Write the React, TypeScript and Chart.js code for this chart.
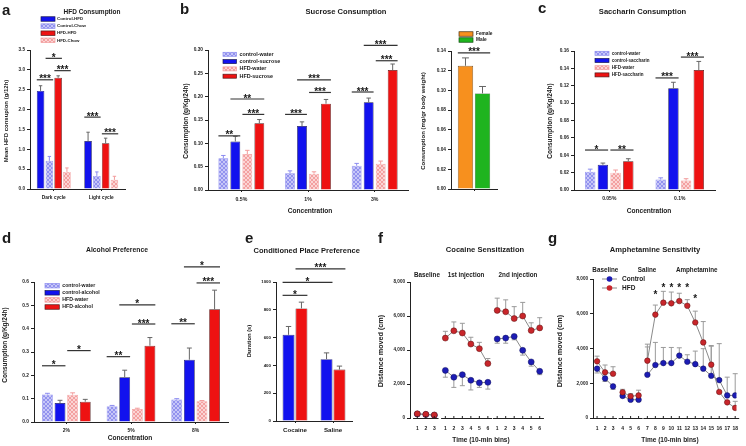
import React, { useEffect, useRef } from 'react';
import { Chart, registerables } from 'chart.js';
Chart.register(...registerables);

const FONT = "'Liberation Sans', Arial, Helvetica, sans-serif";
const W = 746;
const H = 446;

// ---------- panel a : HFD consumption ----------
const aCategories = ['Dark cycle', 'Light cycle'];
const aControlHFD = [2.47, 1.21];
const aControlHFDErr = [0.13, 0.22];
const aControlChow = [0.71, 0.33];
const aControlChowErr = [0.11, 0.1];
const aHFDHFD = [2.8, 1.15];
const aHFDHFDErr = [0.05, 0.13];
const aHFDChow = [0.43, 0.23];
const aHFDChowErr = [0.1, 0.09];
const aSig = [
  { a: [0, 0], b: [0, 1], y: 2.75, t: '***' },
  { a: [0, 1], b: [0, 2], y: 3.29, t: '*' },
  { a: [0, 2], b: [0, 3], y: 2.98, t: '***' },
  { a: [1, 0], b: [1, 1], y: 1.81, t: '***' },
  { a: [1, 2], b: [1, 3], y: 1.39, t: '***' },
];

// ---------- panel b : sucrose ----------
const bCategories = ['0.5%', '1%', '3%'];
const bControlWater = [0.068, 0.036, 0.052];
const bControlWaterErr = [0.006, 0.005, 0.005];
const bControlSucrose = [0.104, 0.137, 0.188];
const bControlSucroseErr = [0.011, 0.009, 0.009];
const bHFDWater = [0.077, 0.035, 0.056];
const bHFDWaterErr = [0.008, 0.004, 0.006];
const bHFDSucrose = [0.143, 0.185, 0.257];
const bHFDSucroseErr = [0.008, 0.009, 0.013];
const bSig = [
  { a: [0, 0], b: [0, 1], y: 0.116, t: '**' },
  { a: [0, 1], b: [0, 3], y: 0.195, t: '**' },
  { a: [0, 2], b: [0, 3], y: 0.162, t: '***' },
  { a: [1, 0], b: [1, 1], y: 0.162, t: '***' },
  { a: [1, 1], b: [1, 3], y: 0.236, t: '***' },
  { a: [1, 2], b: [1, 3], y: 0.209, t: '***' },
  { a: [2, 0], b: [2, 1], y: 0.21, t: '***' },
  { a: [2, 1], b: [2, 3], y: 0.31, t: '***' },
  { a: [2, 2], b: [2, 3], y: 0.277, t: '***' },
];
const bSexCategories = [''];
const bFemale = [0.125];
const bFemaleErr = [0.008];
const bMale = [0.097];
const bMaleErr = [0.007];
const bSexSig = [{ a: [0, 0], b: [0, 1], y: 0.138, t: '***' }];

// ---------- panel c : saccharin ----------
const cCategories = ['0.05%', '0.1%'];
const cControlWater = [0.021, 0.012];
const cControlWaterErr = [0.003, 0.002];
const cControlSaccharin = [0.029, 0.117];
const cControlSaccharinErr = [0.002, 0.007];
const cHFDWater = [0.02, 0.011];
const cHFDWaterErr = [0.003, 0.002];
const cHFDSaccharin = [0.033, 0.138];
const cHFDSaccharinErr = [0.003, 0.01];
const cSig = [
  { a: [0, 0], b: [0, 1], y: 0.046, t: '*' },
  { a: [0, 2], b: [0, 3], y: 0.046, t: '**' },
  { a: [1, 0], b: [1, 1], y: 0.129, t: '***' },
  { a: [1, 2], b: [1, 3], y: 0.153, t: '***' },
];

// ---------- panel d : alcohol ----------
const dCategories = ['2%', '5%', '8%'];
const dControlWater = [0.118, 0.068, 0.096];
const dControlWaterErr = [0.005, 0.003, 0.004];
const dControlAlcohol = [0.081, 0.192, 0.267];
const dControlAlcoholErr = [0.012, 0.03, 0.05];
const dHFDWater = [0.117, 0.056, 0.089];
const dHFDWaterErr = [0.008, 0.003, 0.003];
const dHFDAlcohol = [0.087, 0.327, 0.483];
const dHFDAlcoholErr = [0.01, 0.035, 0.082];
const dSig = [
  { a: [0, 0], b: [0, 1], y: 0.241, t: '*' },
  { a: [0, 2], b: [0, 3], y: 0.306, t: '*' },
  { a: [1, 0], b: [1, 1], y: 0.28, t: '**' },
  { a: [1, 1], b: [1, 3], y: 0.502, t: '*' },
  { a: [1, 2], b: [1, 3], y: 0.42, t: '***' },
  { a: [2, 0], b: [2, 1], y: 0.421, t: '**' },
  { a: [2, 1], b: [2, 3], y: 0.665, t: '*' },
  { a: [2, 2], b: [2, 3], y: 0.596, t: '***' },
];

// ---------- panel e : conditioned place preference ----------
const eCategories = ['Cocaine', 'Saline'];
const eControl = [620, 445];
const eControlErr = [60, 45];
const eHFD = [810, 370];
const eHFDErr = [45, 25];
const eSig = [
  { a: [0, 0], b: [0, 1], y: 904, t: '*' },
  { a: [0, 0], b: [1, 0], y: 998, t: '*' },
  { a: [0, 1], b: [1, 1], y: 1094, t: '***' },
];

// ---------- panel f : cocaine sensitization ----------
const fSegments = [3, 6, 6];
const fGaps = [1.3, 1.1];
const fTickLabels = ['1', '2', '3', '1', '2', '3', '4', '5', '6', '1', '2', '3', '4', '5', '6'];
const fControl = [230, 200, 160, 2800, 2400, 2550, 2220, 2070, 2100, 4650, 4700, 4800, 3980, 3300, 2750];
const fControlErr = [0, 0, 0, -400, -600, -650, -570, -270, -400, -250, -300, -200, -280, -250, -200];
const fHFD = [250, 220, 180, 4700, 5130, 5000, 4350, 4080, 3200, 6330, 6250, 5850, 6000, 5150, 5300];
const fHFDErr = [0, 0, 0, 400, 520, 570, 400, 370, 300, 720, 700, 700, 800, 450, 600];
const fHeaders = ['Baseline', '1st injection', '2nd injection'];

// ---------- panel g : amphetamine sensitivity ----------
const gSegments = [3, 3, 12];
const gGaps = [1.2, 1.1];
const gTickLabels = ['1', '2', '3', '4', '5', '6', '7', '8', '9', '10', '11', '12', '13', '14', '15', '16', '17', '18'];
const gControl = [2840, 2280, 1820, 1270, 1050, 1050, 2490, 3050, 3160, 3160, 3590, 3240, 3100, 2840, 2430, 2180, 1300, 1300];
const gControlErr = [-250, -180, -170, -100, -100, -100, 1600, 1300, 900, 900, 450, 400, 750, 1150, 1700, 2100, 1050, 1250];
const gHFD = [3260, 2630, 2550, 1480, 1250, 1300, 3300, 5950, 6640, 6600, 6730, 6460, 5500, 4350, 3070, 1500, 900, 580];
const gHFDErr = [300, 420, 400, 170, 150, 300, 950, 550, 650, 650, 450, 350, 650, 1200, 1100, 0, 0, 380];
const gHeaders = ['Baseline', 'Saline', 'Amphetamine'];
const gStarIndex = [7, 8, 9, 10, 11, 12];
const gStarLevel = [7190, 7610, 7610, 7610, 7610, 6940];

// ---------------------------------------------------------------
type Txt = { s: string; x: number; y: number; size: number; rot?: boolean; align?: CanvasTextAlign; base?: CanvasTextBaseline };

function drawText(ctx: CanvasRenderingContext2D, t: Txt) {
  ctx.save();
  ctx.font = `bold ${t.size}px ${FONT}`;
  ctx.fillStyle = '#1a1a1a';
  ctx.textAlign = t.align ?? 'center';
  ctx.textBaseline = t.base ?? 'middle';
  if (t.rot) {
    ctx.translate(t.x, t.y);
    ctx.rotate(-Math.PI / 2);
    ctx.fillText(t.s, 0, 0);
  } else ctx.fillText(t.s, t.x, t.y);
  ctx.restore();
}

function makePattern(base: string, ink: string): any {
  const c = document.createElement('canvas');
  c.width = 4;
  c.height = 4;
  const g = c.getContext('2d');
  if (!g) return base;
  g.fillStyle = base;
  g.fillRect(0, 0, 4, 4);
  g.fillStyle = ink;
  const px = [[0, 0], [1, 1], [2, 2], [3, 3], [3, 0], [2, 1], [1, 2], [0, 3]];
  px.forEach(([x, y]) => g.fillRect(x, y, 1, 1));
  const p = g.createPattern(c, 'repeat');
  return p ?? base;
}

function styleOf(style: string, pats: any) {
  switch (style) {
    case 'blue': return { bg: '#1212ee', border: '#1a1a50', err: '#666' };
    case 'red': return { bg: '#ee1212', border: '#501a1a', err: '#666' };
    case 'blueHatch': return { bg: pats.blue, border: '#8c8cf0', err: '#8c8cf0' };
    case 'pinkHatch': return { bg: pats.pink, border: '#f29c9c', err: '#f29c9c' };
    case 'orange': return { bg: '#f7901e', border: '#4a3010', err: '#666' };
    default: return { bg: '#1fb41f', border: '#104a10', err: '#666' };
  }
}

type BarDS = { label: string; data: number[]; err: number[]; style: string };
type LegendSpec = { x: number; y: number; dy: number; size: number; boxW: number; boxH: number; gap: number };
type BarSpec = {
  area: number[];
  categories: string[];
  datasets: BarDS[];
  yMax: number; yStep: number; dec: number;
  catPct: number; barPct: number;
  sigs: any[];
  texts: Txt[];
  legend?: LegendSpec;
  tickSize: number; catSize: number;
};

function buildBar(canvas: HTMLCanvasElement, spec: BarSpec) {
  const pats = { blue: makePattern('#c6c6f8', '#9292ee'), pink: makePattern('#fbd4d4', '#f3a0a0') };
  const [L, R, T, B] = spec.area;
  const yW = 30;
  const xH = 20;
  const styles = spec.datasets.map((d) => styleOf(d.style, pats));
  const datasets = spec.datasets.map((d, i) => ({
    label: d.label,
    data: d.data,
    backgroundColor: styles[i].bg,
    borderColor: styles[i].border,
    borderWidth: 0.7,
    categoryPercentage: spec.catPct,
    barPercentage: spec.barPct,
  }));
  const decor = {
    id: 'decor',
    afterDatasetsDraw(chart: any) {
      const ctx = chart.ctx;
      const ys = chart.scales.y;
      spec.datasets.forEach((d, i) => {
        const meta = chart.getDatasetMeta(i);
        meta.data.forEach((el: any, j: number) => {
          const v = d.data[j];
          const top = ys.getPixelForValue(v + d.err[j]);
          const y0 = ys.getPixelForValue(v);
          const cw = el.width * 0.45;
          ctx.save();
          ctx.strokeStyle = styles[i].err;
          ctx.lineWidth = 1;
          ctx.beginPath();
          ctx.moveTo(el.x, y0);
          ctx.lineTo(el.x, top);
          ctx.moveTo(el.x - cw / 2, top);
          ctx.lineTo(el.x + cw / 2, top);
          ctx.stroke();
          ctx.restore();
        });
      });
    },
    afterDraw(chart: any) {
      const ctx = chart.ctx;
      const ys = chart.scales.y;
      spec.sigs.forEach((s) => {
        const ea = chart.getDatasetMeta(s.a[1]).data[s.a[0]];
        const eb = chart.getDatasetMeta(s.b[1]).data[s.b[0]];
        const x1 = ea.x - ea.width / 2;
        const x2 = eb.x + eb.width / 2;
        const y = ys.getPixelForValue(s.y);
        ctx.save();
        ctx.strokeStyle = '#333';
        ctx.lineWidth = 1.2;
        ctx.beginPath();
        ctx.moveTo(x1, y);
        ctx.lineTo(x2, y);
        ctx.stroke();
        ctx.restore();
        drawText(ctx, { s: s.t, x: (x1 + x2) / 2, y: y + 2.5, size: 10, base: 'alphabetic' });
      });
      spec.texts.forEach((t) => drawText(ctx, t));
      if (spec.legend) {
        const lg = spec.legend;
        spec.datasets.forEach((d, i) => {
          const cy = lg.y + i * lg.dy;
          ctx.save();
          ctx.fillStyle = styles[i].bg;
          ctx.fillRect(lg.x, cy - lg.boxH / 2, lg.boxW, lg.boxH);
          ctx.strokeStyle = styles[i].border;
          ctx.lineWidth = 0.7;
          ctx.strokeRect(lg.x, cy - lg.boxH / 2, lg.boxW, lg.boxH);
          ctx.restore();
          drawText(ctx, { s: d.label, x: lg.x + lg.boxW + lg.gap, y: cy, size: lg.size, align: 'left' });
        });
      }
    },
  };
  return new Chart(canvas, {
    type: 'bar',
    data: { labels: spec.categories, datasets },
    options: {
      responsive: false,
      animation: false,
      devicePixelRatio: 1,
      layout: { autoPadding: false, padding: { left: L - yW, right: W - R, top: T, bottom: H - B - xH } },
      scales: {
        x: {
          afterFit: (s: any) => { s.height = xH; },
          grid: { display: true, offset: false, drawOnChartArea: false, drawTicks: true, tickLength: 2, color: '#222' },
          border: { display: true, color: '#222', width: 1 },
          ticks: { font: { family: FONT, size: spec.catSize, weight: 'bold' }, color: '#1a1a1a', padding: 4, maxRotation: 0, autoSkip: false },
        },
        y: {
          min: 0,
          max: spec.yMax,
          afterFit: (s: any) => { s.width = yW; },
          grid: { drawOnChartArea: false, drawTicks: true, tickLength: 3, color: '#222' },
          border: { display: true, color: '#222', width: 1 },
          ticks: {
            stepSize: spec.yStep,
            callback: (v: any) => Number(v).toFixed(spec.dec),
            font: { family: FONT, size: spec.tickSize, weight: 'bold' },
            color: '#1a1a1a',
            padding: 2,
          },
        },
      },
      plugins: { legend: { display: false }, tooltip: { enabled: false }, title: { display: false } },
    } as any,
    plugins: [decor],
  });
}

type LineSpec = {
  area: number[];
  xMin: number; xMax: number;
  segments: number[]; gaps: number[];
  tickLabels: string[];
  control: number[]; controlErr: number[];
  hfd: number[]; hfdErr: number[];
  texts: Txt[];
  headers: string[]; headerX: number[]; headerY: number;
  stars?: { idx: number[]; lvl: number[] };
  legend?: { x1: number; x2: number; y: number; dy: number; size: number };
  radius: number;
};

function positionsOf(segments: number[], gaps: number[]) {
  const out: number[] = [];
  let x = 1;
  segments.forEach((n, si) => {
    for (let k = 0; k < n; k++) {
      out.push(x);
      if (k < n - 1) x += 1;
    }
    if (si < segments.length - 1) x += gaps[si];
  });
  return out;
}

function buildLine(canvas: HTMLCanvasElement, spec: LineSpec) {
  const [L, R, T, B] = spec.area;
  const yW = 30;
  const xH = 20;
  const pos = positionsOf(spec.segments, spec.gaps);
  const withBreaks = (vals: number[], errs: number[]) => {
    const pts: any[] = [];
    const es: (number | null)[] = [];
    let idx = 0;
    spec.segments.forEach((n, si) => {
      for (let k = 0; k < n; k++) {
        pts.push({ x: pos[idx], y: vals[idx] });
        es.push(errs[idx]);
        idx++;
      }
      if (si < spec.segments.length - 1) {
        pts.push({ x: pos[idx - 1] + 0.5, y: null });
        es.push(null);
      }
    });
    return { pts, es };
  };
  const c = withBreaks(spec.control, spec.controlErr);
  const h = withBreaks(spec.hfd, spec.hfdErr);
  const RED = '#c8262b';
  const BLUE = '#1c1cb4';
  const decor = {
    id: 'decor',
    beforeDatasetsDraw(chart: any) {
      const ctx = chart.ctx;
      const xs = chart.scales.x;
      const ys = chart.scales.y;
      [h, c].forEach((ser) => {
        ser.pts.forEach((p: any, i: number) => {
          const e = ser.es[i];
          if (p.y == null || !e) return;
          const x = xs.getPixelForValue(p.x);
          const y0 = ys.getPixelForValue(p.y);
          const y1 = ys.getPixelForValue(p.y + e);
          ctx.save();
          ctx.strokeStyle = '#9a9a9a';
          ctx.lineWidth = 1;
          ctx.beginPath();
          ctx.moveTo(x, y0);
          ctx.lineTo(x, y1);
          ctx.moveTo(x - 2.5, y1);
          ctx.lineTo(x + 2.5, y1);
          ctx.stroke();
          ctx.restore();
        });
      });
    },
    afterDraw(chart: any) {
      const ctx = chart.ctx;
      const xs = chart.scales.x;
      const ys = chart.scales.y;
      let idx = 0;
      ctx.save();
      ctx.strokeStyle = '#222';
      ctx.lineWidth = 1;
      spec.segments.forEach((n) => {
        const a = xs.getPixelForValue(pos[idx] - 0.5);
        const b = xs.getPixelForValue(pos[idx + n - 1] + 0.5);
        ctx.beginPath();
        ctx.moveTo(a, B + 0.5);
        ctx.lineTo(b, B + 0.5);
        for (let k = 0; k < n; k++) {
          const px = xs.getPixelForValue(pos[idx + k]);
          ctx.moveTo(px, B + 0.5);
          ctx.lineTo(px, B - 2);
        }
        ctx.stroke();
        idx += n;
      });
      ctx.restore();
      spec.headers.forEach((s, i) => drawText(ctx, { s, x: spec.headerX[i], y: spec.headerY, size: 6.3 }));
      if (spec.stars) {
        spec.stars.idx.forEach((k, i) => {
          drawText(ctx, { s: '*', x: xs.getPixelForValue(pos[k]), y: ys.getPixelForValue(spec.stars!.lvl[i]) + 5, size: 10, base: 'alphabetic' });
        });
      }
      if (spec.legend) {
        const lg = spec.legend;
        [['Control', BLUE], ['HFD', RED]].forEach(([s, col], i) => {
          const y = lg.y + i * lg.dy;
          ctx.save();
          ctx.strokeStyle = '#8a8a8a';
          ctx.lineWidth = 1;
          ctx.beginPath();
          ctx.moveTo(lg.x1, y);
          ctx.lineTo(lg.x2, y);
          ctx.stroke();
          ctx.fillStyle = col;
          ctx.beginPath();
          ctx.arc((lg.x1 + lg.x2) / 2, y, spec.radius, 0, Math.PI * 2);
          ctx.fill();
          ctx.restore();
          drawText(ctx, { s, x: lg.x2 + 5, y, size: lg.size, align: 'left' });
        });
      }
      spec.texts.forEach((t) => drawText(ctx, t));
    },
  };
  return new Chart(canvas, {
    type: 'line',
    data: {
      datasets: [
        { label: 'HFD', data: h.pts, borderColor: '#8a8a8a', borderWidth: 1, pointBackgroundColor: RED, pointBorderColor: '#5a1010', pointBorderWidth: 0.5, pointRadius: spec.radius, spanGaps: false },
        { label: 'Control', data: c.pts, borderColor: '#8a8a8a', borderWidth: 1, pointBackgroundColor: BLUE, pointBorderColor: '#10105a', pointBorderWidth: 0.5, pointRadius: spec.radius, spanGaps: false },
      ],
    },
    options: {
      responsive: false,
      animation: false,
      devicePixelRatio: 1,
      layout: { autoPadding: false, padding: { left: L - yW, right: W - R, top: T, bottom: H - B - xH } },
      scales: {
        x: {
          type: 'linear',
          min: spec.xMin,
          max: spec.xMax,
          afterFit: (s: any) => { s.height = xH; },
          afterBuildTicks: (s: any) => { s.ticks = pos.map((v) => ({ value: v })); },
          grid: { display: false, drawTicks: false },
          border: { display: false },
          ticks: {
            autoSkip: false,
            maxRotation: 0,
            padding: 8,
            callback: (_v: any, i: number) => spec.tickLabels[i],
            font: { family: FONT, size: 5, weight: 'bold' },
            color: '#1a1a1a',
          },
        },
        y: {
          min: 0,
          max: 8000,
          afterFit: (s: any) => { s.width = yW; },
          grid: { drawOnChartArea: false, drawTicks: true, tickLength: 3, color: '#222' },
          border: { display: true, color: '#222', width: 1 },
          ticks: { stepSize: 2000, font: { family: FONT, size: 4.6, weight: 'bold' }, color: '#1a1a1a', padding: 2 },
        },
      },
      plugins: { legend: { display: false }, tooltip: { enabled: false }, title: { display: false } },
    } as any,
    plugins: [decor],
  });
}

// ---------------------------------------------------------------
const barSpecs: BarSpec[] = [
  {
    area: [30, 125, 50, 189],
    categories: aCategories,
    datasets: [
      { label: 'Control-HFD', data: aControlHFD, err: aControlHFDErr, style: 'blue' },
      { label: 'Control-Chow', data: aControlChow, err: aControlChowErr, style: 'blueHatch' },
      { label: 'HFD-HFD', data: aHFDHFD, err: aHFDHFDErr, style: 'red' },
      { label: 'HFD-Chow', data: aHFDChow, err: aHFDChowErr, style: 'pinkHatch' },
    ],
    yMax: 3.5, yStep: 0.5, dec: 1, catPct: 0.74, barPct: 0.86,
    sigs: aSig,
    texts: [
      { s: 'a', x: 2, y: 15, size: 15, align: 'left', base: 'alphabetic' },
      { s: 'HFD Consumption', x: 92, y: 12, size: 6.5 },
      { s: 'Mean HFD consupion (g/12h)', x: 6, y: 121, size: 6, rot: true },
    ],
    legend: { x: 41, y: 19, dy: 7.1, size: 4.4, boxW: 14, boxH: 4.5, gap: 2 },
    tickSize: 4.6, catSize: 4.8,
  },
  {
    area: [208, 408, 50, 190],
    categories: bCategories,
    datasets: [
      { label: 'control-water', data: bControlWater, err: bControlWaterErr, style: 'blueHatch' },
      { label: 'control-sucrose', data: bControlSucrose, err: bControlSucroseErr, style: 'blue' },
      { label: 'HFD-water', data: bHFDWater, err: bHFDWaterErr, style: 'pinkHatch' },
      { label: 'HFD-sucrose', data: bHFDSucrose, err: bHFDSucroseErr, style: 'red' },
    ],
    yMax: 0.3, yStep: 0.05, dec: 2, catPct: 0.72, barPct: 0.82,
    sigs: bSig,
    texts: [
      { s: 'b', x: 180, y: 14, size: 15, align: 'left', base: 'alphabetic' },
      { s: 'Sucrose Consumption', x: 346, y: 12, size: 7.6 },
      { s: 'Consumption (g/Kg/24h)', x: 186, y: 121, size: 6.5, rot: true },
      { s: 'Concentration', x: 310, y: 211, size: 6.6 },
    ],
    legend: { x: 223, y: 54.3, dy: 7.3, size: 5.4, boxW: 13.5, boxH: 4, gap: 3 },
    tickSize: 4.8, catSize: 5.2,
  },
  {
    area: [451, 497, 51, 189],
    categories: bSexCategories,
    datasets: [
      { label: 'Female', data: bFemale, err: bFemaleErr, style: 'orange' },
      { label: 'Male', data: bMale, err: bMaleErr, style: 'green' },
    ],
    yMax: 0.14, yStep: 0.02, dec: 2, catPct: 0.74, barPct: 0.9,
    sigs: bSexSig,
    texts: [
      { s: 'Consumption (mg/gr body weight)', x: 423.5, y: 121, size: 6, rot: true },
    ],
    legend: { x: 459, y: 34, dy: 6, size: 4.8, boxW: 14, boxH: 4.5, gap: 3 },
    tickSize: 4.8, catSize: 5,
  },
  {
    area: [574, 715, 51, 190],
    categories: cCategories,
    datasets: [
      { label: 'control-water', data: cControlWater, err: cControlWaterErr, style: 'blueHatch' },
      { label: 'control-saccharin', data: cControlSaccharin, err: cControlSaccharinErr, style: 'blue' },
      { label: 'HFD-water', data: cHFDWater, err: cHFDWaterErr, style: 'pinkHatch' },
      { label: 'HFD-saccharin', data: cHFDSaccharin, err: cHFDSaccharinErr, style: 'red' },
    ],
    yMax: 0.16, yStep: 0.02, dec: 2, catPct: 0.72, barPct: 0.82,
    sigs: cSig,
    texts: [
      { s: 'c', x: 538, y: 13, size: 15, align: 'left', base: 'alphabetic' },
      { s: 'Saccharin Consumption', x: 642.5, y: 12, size: 7.6 },
      { s: 'Consumption (g/Kg/24h)', x: 550, y: 121, size: 6.5, rot: true },
      { s: 'Concentration', x: 649, y: 211, size: 6.6 },
    ],
    legend: { x: 595, y: 53.3, dy: 7.2, size: 4.5, boxW: 14, boxH: 4, gap: 2.7 },
    tickSize: 4.8, catSize: 5,
  },
  {
    area: [34, 228, 282, 422],
    categories: dCategories,
    datasets: [
      { label: 'control-water', data: dControlWater, err: dControlWaterErr, style: 'blueHatch' },
      { label: 'control-alcohol', data: dControlAlcohol, err: dControlAlcoholErr, style: 'blue' },
      { label: 'HFD-water', data: dHFDWater, err: dHFDWaterErr, style: 'pinkHatch' },
      { label: 'HFD-alcohol', data: dHFDAlcohol, err: dHFDAlcoholErr, style: 'red' },
    ],
    yMax: 0.6, yStep: 0.1, dec: 1, catPct: 0.78, barPct: 0.86,
    sigs: dSig,
    texts: [
      { s: 'd', x: 2, y: 243, size: 15, align: 'left', base: 'alphabetic' },
      { s: 'Alcohol Preference', x: 117, y: 250, size: 6.8 },
      { s: 'Consumption (g/Kg/24h)', x: 5, y: 345, size: 6.5, rot: true },
      { s: 'Concentration', x: 130, y: 438, size: 6.6 },
    ],
    legend: { x: 45, y: 285.7, dy: 7.1, size: 5.2, boxW: 14.3, boxH: 4.5, gap: 3 },
    tickSize: 4.8, catSize: 5,
  },
  {
    area: [276, 352, 282, 421],
    categories: eCategories,
    datasets: [
      { label: 'Control', data: eControl, err: eControlErr, style: 'blue' },
      { label: 'HFD', data: eHFD, err: eHFDErr, style: 'red' },
    ],
    yMax: 1000, yStep: 200, dec: 0, catPct: 0.68, barPct: 0.92,
    sigs: eSig,
    texts: [
      { s: 'e', x: 245, y: 243, size: 15, align: 'left', base: 'alphabetic' },
      { s: 'Conditioned Place Preference', x: 306.7, y: 250.5, size: 7.5 },
      { s: 'Duration (s)', x: 249.7, y: 341, size: 5.8, rot: true },
    ],
    tickSize: 4.4, catSize: 6.2,
  },
];

const lineSpecs: LineSpec[] = [
  {
    area: [410, 547, 282, 418],
    xMin: 0.14, xMax: 16.26,
    segments: fSegments, gaps: fGaps, tickLabels: fTickLabels,
    control: fControl, controlErr: fControlErr, hfd: fHFD, hfdErr: fHFDErr,
    headers: fHeaders, headerX: [427, 466, 518], headerY: 275,
    texts: [
      { s: 'f', x: 378, y: 243, size: 15, align: 'left', base: 'alphabetic' },
      { s: 'Cocaine Sensitization', x: 485, y: 250, size: 7.6 },
      { s: 'Distance moved (cm)', x: 381, y: 351, size: 7.2, rot: true },
      { s: 'Time (10-min bins)', x: 481, y: 440, size: 6.5 },
    ],
    radius: 3,
  },
  {
    area: [593, 744, 279, 418],
    xMin: 0.49, xMax: 18.46,
    segments: gSegments, gaps: gGaps, tickLabels: gTickLabels,
    control: gControl, controlErr: gControlErr, hfd: gHFD, hfdErr: gHFDErr,
    headers: gHeaders, headerX: [605.3, 647, 696.7], headerY: 270,
    stars: { idx: gStarIndex, lvl: gStarLevel },
    legend: { x1: 602, x2: 617, y: 279, dy: 9, size: 6.5 },
    texts: [
      { s: 'g', x: 548, y: 243, size: 15, align: 'left', base: 'alphabetic' },
      { s: 'Amphetamine Sensitivity', x: 655, y: 250, size: 7.6 },
      { s: 'Distance moved (cm)', x: 560.5, y: 351, size: 7.2, rot: true },
      { s: 'Time (10-min bins)', x: 670, y: 440, size: 6.5 },
    ],
    radius: 2.8,
  },
];

function ChartCanvas({ build }: { build: (c: HTMLCanvasElement) => Chart }) {
  const ref = useRef<HTMLCanvasElement>(null);
  useEffect(() => {
    if (!ref.current) return;
    const ch = build(ref.current);
    return () => ch.destroy();
  }, []);
  return (
    <canvas
      ref={ref}
      width={W}
      height={H}
      style={{ position: 'absolute', left: 0, top: 0, width: W, height: H }}
    />
  );
}

export default function App() {
  return (
    <div style={{ position: 'absolute', left: 0, top: 0, width: W, height: H, background: '#fff', overflow: 'hidden' }}>
      {barSpecs.map((s, i) => (
        <ChartCanvas key={'b' + i} build={(c) => buildBar(c, s)} />
      ))}
      {lineSpecs.map((s, i) => (
        <ChartCanvas key={'l' + i} build={(c) => buildLine(c, s)} />
      ))}
    </div>
  );
}
